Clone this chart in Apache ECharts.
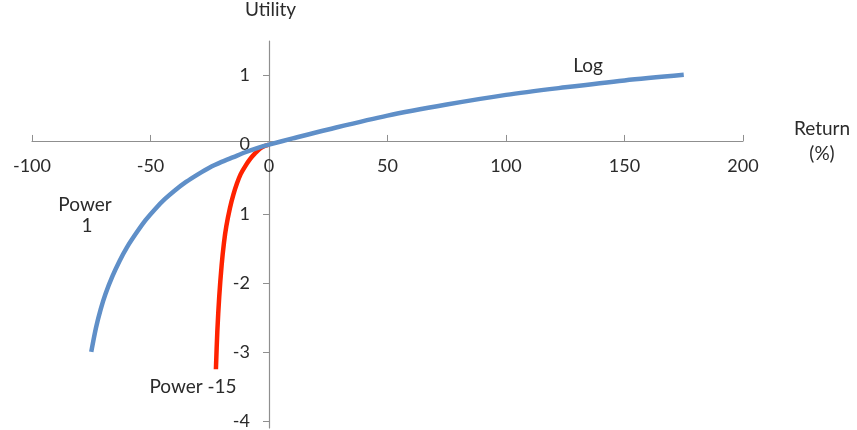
<!DOCTYPE html>
<html><head><meta charset="utf-8">
<script src="https://cdn.jsdelivr.net/npm/echarts@6/dist/echarts.min.js"></script>
<style>html,body{margin:0;padding:0;background:#fff}#c{width:857px;height:430px}</style>
</head><body><div id="c"></div>
<script>
// Log / Power 1 curve (blue)
const blueX = [-75, -73, -71, -69, -66, -63, -60, -56, -52, -48, -44, -40, -35, -30, -25, -20, -15, -10, -5, 0, 10, 25, 50, 75, 100, 125, 150, 175];
const blueY = [-3.0, -2.65, -2.38, -2.16, -1.90, -1.68, -1.49, -1.28, -1.09, -0.93, -0.79, -0.67, -0.54, -0.43, -0.33, -0.25, -0.18, -0.11, -0.05, 0, 0.09, 0.22, 0.42, 0.58, 0.72, 0.83, 0.93, 1.01];
// Power -15 curve (red)
const redX = [0, -3, -6, -8, -10, -12, -13.5, -15, -16.5, -18, -19, -20, -21, -21.8, -22.4];
const redY = [0, -0.04, -0.13, -0.21, -0.31, -0.43, -0.56, -0.72, -0.92, -1.18, -1.42, -1.75, -2.2, -2.7, -3.25];
// Axis ticks and labels
const xTicks = [-100, -50, 0, 50, 100, 150, 200];
const yTicks = [-4, -3, -2, -1, 0, 1];
const yTickLabels = ['-4', '-3', '-2', '1', '0', '1'];

const FONT = 'Lato';
const TXT = '#2b2b2b';
const GRID = { left: 32, right: 114, top: 38, bottom: 0 };
const W = 857, H = 430;
const X_MIN = -100, X_MAX = 200, Y_MIN = -4.1, Y_MAX = 1.5;
// place the axes through the origin (axis offsets from the grid edges)
const plotW = W - GRID.left - GRID.right, plotH = H - GRID.top - GRID.bottom;
const xAxisOffset = -plotH * (0 - Y_MIN) / (Y_MAX - Y_MIN);
const yAxisOffset = -plotW * (0 - X_MIN) / (X_MAX - X_MIN);

const chart = echarts.init(document.getElementById('c'));
chart.setOption({
  animation: false,
  backgroundColor: '#fff',
  grid: Object.assign({ containLabel: false }, GRID),
  xAxis: {
    type: 'value', min: X_MIN, max: X_MAX, interval: 50,
    position: 'bottom', offset: xAxisOffset,
    name: 'Return\n(%)', nameLocation: 'end', nameGap: 79,
    nameTextStyle: { fontFamily: FONT, fontSize: 19, color: TXT, align: 'center', verticalAlign: 'middle', lineHeight: 25 },
    axisLine: { onZero: false, lineStyle: { color: '#8f8f8f', width: 1.2 } },
    axisTick: { inside: true, length: 6, lineStyle: { color: '#8f8f8f' }, customValues: xTicks },
    axisLabel: { customValues: xTicks, margin: 16, fontFamily: FONT, fontSize: 18, color: TXT },
    splitLine: { show: false }
  },
  yAxis: {
    type: 'value', min: Y_MIN, max: Y_MAX,
    position: 'left', offset: yAxisOffset,
    name: 'Utility', nameLocation: 'end', nameGap: 22,
    nameTextStyle: { fontFamily: FONT, fontSize: 19, color: TXT, align: 'left', padding: [0, 0, 0, -24] },
    axisLine: { onZero: false, lineStyle: { color: '#8f8f8f', width: 1.2 } },
    axisTick: { inside: false, length: 6, lineStyle: { color: '#8f8f8f' }, customValues: yTicks },
    axisLabel: {
      customValues: yTicks, margin: 19, fontFamily: FONT, fontSize: 18, color: TXT,
      formatter: function (v) { const i = yTicks.indexOf(v); return i >= 0 ? yTickLabels[i] : ''; }
    },
    splitLine: { show: false }
  },
  series: [
    {
      type: 'line', name: 'Log', showSymbol: false, smooth: 0.3, z: 3,
      lineStyle: { color: '#5f8fc8', width: 4.5 },
      data: blueX.map((x, i) => [x, blueY[i]])
    },
    {
      type: 'line', name: 'Power -15', showSymbol: false, smooth: 0.3, z: 2,
      lineStyle: { color: '#ff2200', width: 4.5 },
      data: redX.map((x, i) => [x, redY[i]])
    }
  ],
  graphic: [
    { type: 'text', x: 588, y: 66, style: { text: 'Log', font: '19px ' + FONT, fill: TXT, align: 'center', verticalAlign: 'middle' } },
    { type: 'text', x: 85, y: 205, style: { text: 'Power', font: '19px ' + FONT, fill: TXT, align: 'center', verticalAlign: 'middle' } },
    { type: 'text', x: 87, y: 226, style: { text: '1', font: '19px ' + FONT, fill: TXT, align: 'center', verticalAlign: 'middle' } },
    { type: 'text', x: 193, y: 387, style: { text: 'Power -15', font: '19px ' + FONT, fill: TXT, align: 'center', verticalAlign: 'middle' } }
  ]
});
</script></body></html>
